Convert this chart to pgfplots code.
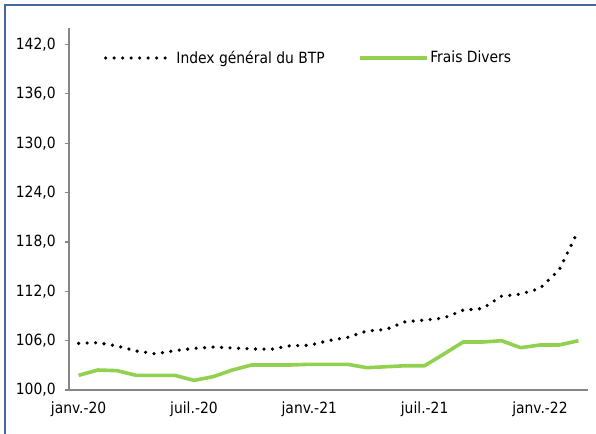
\documentclass[border=0pt]{standalone}
\usepackage{fontspec}
\setmainfont{DejaVu Sans Condensed}
\usepackage{pgfplots}
\pgfplotsset{compat=1.18}
\definecolor{frblue}{HTML}{41699F}
\definecolor{fdgreen}{HTML}{92D050}
\definecolor{axgray}{HTML}{868686}

\pgfplotstableread{
i idx fd
0 105.67 101.78
1 105.75 102.43
2 105.35 102.35
3 104.74 101.78
4 104.40 101.78
5 104.78 101.78
6 105.06 101.17
7 105.22 101.62
8 105.10 102.43
9 105.00 103.04
10 104.94 103.04
11 105.38 103.04
12 105.43 103.12
13 106.00 103.12
14 106.40 103.12
15 107.17 102.71
16 107.37 102.83
17 108.30 102.95
18 108.50 102.95
19 108.75 104.37
20 109.70 105.83
21 109.90 105.83
22 111.40 105.99
23 111.66 105.14
24 112.35 105.47
25 114.60 105.47
26 119.40 105.99
}\datatable

\begin{document}
\fontsize{15.5}{18}\selectfont
\begin{tikzpicture}[x=1bp,y=1bp]
\useasboundingbox (0,0) rectangle (596,434);
\draw[frblue, line width=2.2bp] (5,0) -- (5,429) -- (596,429);
\begin{axis}[
  at={(69bp,44bp)}, anchor=south west,
  scale only axis, width=519bp, height=362bp,
  xmin=-0.5, xmax=26.5, ymin=100, ymax=144,
  axis lines*=left,
  axis line style={axgray, line width=1.5bp},
  every tick/.style={axgray, line width=1.2bp},
  tick align=outside,
  ytick={100,106,...,142},
  major tick length=4bp,
  xtick={0,6,12,18,24},
  xticklabels={janv.-20,juil.-20,janv.-21,juil.-21,janv.-22},
  x tick style={draw=none},
  minor xtick={-0.5,5.5,11.5,17.5,23.5},
  minor x tick style={axgray, line width=1.2bp},
  minor tick length=5bp,
  /pgf/number format/assume math mode=true,
  /pgf/number format/.cd, fixed, fixed zerofill, precision=1, use comma, 1000 sep={},
  /pgfplots/.cd,
  yticklabel style={xshift=-4bp},
  xticklabel style={yshift=-2bp},
  tick label style={font=\fontsize{15.5}{18}\selectfont},
  legend style={draw=none, fill=none, at={(0.061,0.917)}, anchor=west,
    legend columns=2, font=\fontsize{15.5}{18}\selectfont,
    /tikz/every even column/.append style={column sep=31bp}},
  legend cell align=left,
  legend image code/.code={\draw[#1] (0bp,0bp) -- (67bp,0bp);},
]
\addplot[black, line width=3.6bp, line cap=round, dash pattern=on 0pt off 8.5bp] table[x=i,y=idx]{\datatable};
\addlegendentry{Index général du BTP}
\addplot[fdgreen, line width=3.6bp, line join=round] table[x=i,y=fd]{\datatable};
\addlegendentry{Frais Divers}
\end{axis}
\end{tikzpicture}
\end{document}
